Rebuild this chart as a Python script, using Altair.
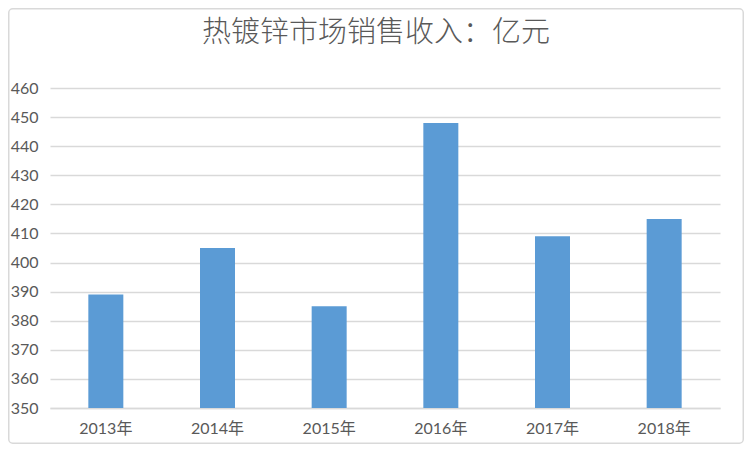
import altair as alt
import pandas as pd

years = ["2013年", "2014年", "2015年", "2016年", "2017年", "2018年"]
revenue = [389, 405, 385, 448, 409, 415]
y_ticks = [350, 360, 370, 380, 390, 400, 410, 420, 430, 440, 450, 460]

df = pd.DataFrame({"year": years, "value": revenue})

FONT = "Lato, 'Noto Sans CJK SC', sans-serif"
GRAY = "#D9D9D9"
TEXT = "#595959"

bars = alt.Chart(df).mark_bar(size=35, color="#5B9BD5").encode(
    x=alt.X("year:N", sort=years, title=None,
            scale=alt.Scale(paddingInner=0, paddingOuter=0),
            axis=alt.Axis(labelAngle=0, ticks=False, domain=True, domainColor=GRAY,
                          domainWidth=1.3, labelFont=FONT, labelFontSize=16,
                          labelColor=TEXT, labelPadding=12, grid=False)),
    y=alt.Y("value:Q", title=None,
            scale=alt.Scale(domain=[350, 460], nice=False, zero=False),
            axis=alt.Axis(values=y_ticks, ticks=False, domain=False, grid=True,
                          gridColor=GRAY, gridWidth=1.3, labelFont=FONT,
                          labelFontSize=16, labelColor=TEXT, labelPadding=12)),
    y2=alt.datum(350),
)

frame = alt.Chart(pd.DataFrame({"a": [0]})).mark_rect(
    fill="transparent", stroke=GRAY, strokeWidth=1.5, cornerRadius=4
).encode(
    x=alt.value(-41.25), x2=alt.value(693.25), y=alt.value(-79.25), y2=alt.value(355.25)
)

chart = alt.layer(bars, frame).properties(
    width=670, height=320,
    padding={"left": 42, "top": 80, "right": 24, "bottom": 36},
    autosize=alt.AutoSizeParams(type="none"),
    title=alt.TitleParams("热镀锌市场销售收入：亿元", font="'Noto Sans CJK SC'",
                          fontSize=29, fontWeight=300, color=TEXT,
                          anchor="middle", frame="group", dx=-9, offset=-40),
).configure(background="white").configure_view(strokeWidth=0, stroke="transparent")

chart.save("out.html", embed_options={"renderer": "svg", "actions": False})
